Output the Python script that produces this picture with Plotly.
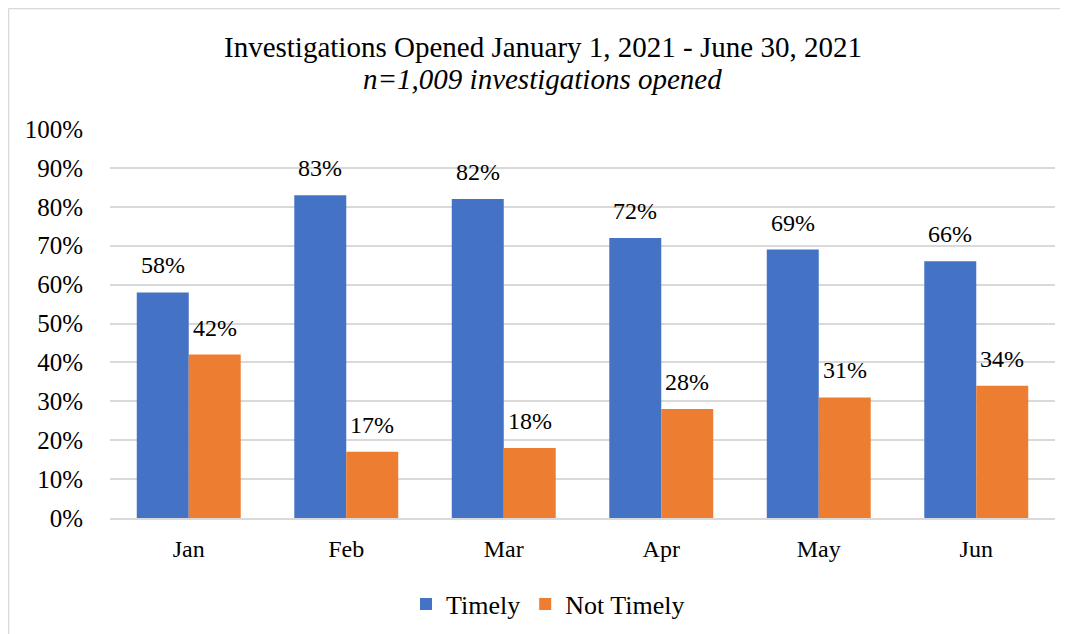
import plotly.graph_objects as go

months = ["Jan", "Feb", "Mar", "Apr", "May", "Jun"]
timely = [0.58, 0.83, 0.82, 0.72, 0.69, 0.66]
not_timely = [0.42, 0.17, 0.18, 0.28, 0.31, 0.34]
y_ticks = [0, 0.1, 0.2, 0.3, 0.4, 0.5, 0.6, 0.7, 0.8, 0.9, 1.0]
y_tick_labels = ["0%", "10%", "20%", "30%", "40%", "50%", "60%", "70%", "80%", "90%", "100%"]
title_line1 = "Investigations Opened January 1, 2021 - June 30, 2021"
title_line2 = "<i>n=1,009 investigations opened</i>"

# page has 8px body margin, so the figure is drawn 8px in from top-left
W, H = 1060, 626
L, R, T, B = 102, 13, 121, 116
FONT = "Liberation Serif"
FS = 24

fig = go.Figure()
fig.add_trace(go.Bar(x=months, y=timely, name="Timely", marker=dict(color="#4472C4", line=dict(width=0))))
fig.add_trace(go.Bar(x=months, y=not_timely, name="Not Timely", marker=dict(color="#ED7D31", line=dict(width=0))))

pw = W - L - R
ph = H - T - B

annotations = []
for vals, shift in ((timely, -26), (not_timely, 26)):
    for m, v in zip(months, vals):
        annotations.append(dict(x=m, y=v, xref="x", yref="y", text=f"{round(v*100)}%",
                                showarrow=False, xshift=shift, yshift=12, yanchor="bottom",
                                font=dict(family=FONT, size=FS, color="#000000")))

def py(y_fig):
    return (H - B - y_fig) / ph

def px_(x_fig):
    return (x_fig - L) / pw

annotations.append(dict(x=px_(534.5), y=py(39), xref="paper", yref="paper", text=title_line1,
                        showarrow=False, xanchor="center", yanchor="middle",
                        font=dict(family=FONT, size=29, color="#000000")))
annotations.append(dict(x=px_(534.5), y=py(71), xref="paper", yref="paper", text=title_line2,
                        showarrow=False, xanchor="center", yanchor="middle",
                        font=dict(family=FONT, size=29, color="#000000")))

x_left = px_(0.5)
x_right = px_(W + 5)
y_top = py(0.5)
y_bot = py(H + 5)

shapes = [
    dict(type="line", xref="paper", yref="paper", x0=x_left, x1=x_left, y0=y_bot, y1=y_top,
         line=dict(color="#D9D9D9", width=1.5)),
    dict(type="line", xref="paper", yref="paper", x0=x_left, x1=x_right, y0=y_top, y1=y_top,
         line=dict(color="#D9D9D9", width=1.5)),
]

fig.update_layout(
    width=W, height=H,
    margin=dict(l=L, r=R, t=T, b=B),
    paper_bgcolor="white", plot_bgcolor="white",
    font=dict(family=FONT, size=FS, color="#000000"),
    barmode="group", bargap=0.34, bargroupgap=0,
    showlegend=True,
    legend=dict(orientation="h", x=540 / W, xanchor="center", xref="container",
                y=1 - 596 / H, yanchor="middle", yref="container",
                font=dict(family=FONT, size=26, color="#000000"), traceorder="normal"),
    xaxis=dict(showgrid=False, showline=True, linecolor="#D9D9D9", linewidth=1.5,
               ticks="", ticklabelstandoff=8, tickfont=dict(family=FONT, size=FS, color="#000000")),
    yaxis=dict(range=[0, 1], tickvals=y_ticks, ticktext=y_tick_labels, showgrid=True,
               gridcolor="#D9D9D9", gridwidth=1.5, zeroline=False, showline=False,
               ticks="", ticklabelstandoff=26, tickfont=dict(family=FONT, size=25, color="#000000")),
    annotations=annotations,
    shapes=shapes,
)

fig.write_html("out.html")
